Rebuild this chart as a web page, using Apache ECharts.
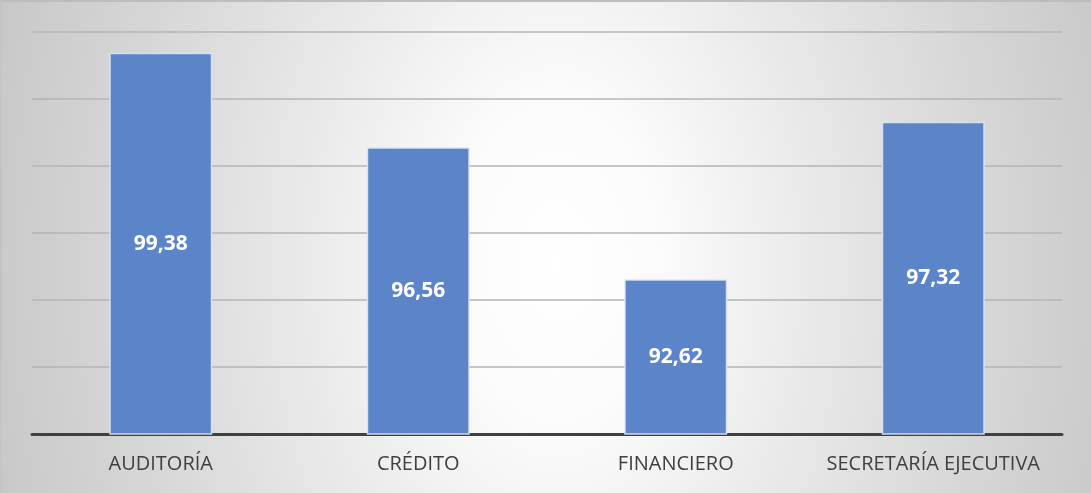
<!DOCTYPE html>
<html lang="es">
<head>
<meta charset="UTF-8">
<title>Puntaje por área</title>
<script src="https://cdn.jsdelivr.net/npm/echarts@6.0.0/dist/echarts.min.js"></script>
<style>
    html, body { margin: 0; padding: 0; }
    #chart {
        width: 1091px;
        height: 493px;
        box-sizing: border-box;
        border-top: 2px solid #bdbdbd;
        border-left: 2px solid #c4c4c4;
        background: radial-gradient(ellipse 580px 900px at 555px 260px, #ffffff 0%, #fbfbfb 18%, #e8e8e8 46%, #d6d6d6 75%, #c8c8c8 100%);
        background-color: #c6c6c6;
    }
</style>
</head>
<body>
<div id="chart"></div>
<script>
    const areas = ['AUDITORÍA', 'CRÉDITO', 'FINANCIERO', 'SECRETARÍA EJECUTIVA'];
    const puntajes = [99.38, 96.56, 92.62, 97.32];

    const myChart = echarts.init(document.getElementById('chart'));

    const option = {
        backgroundColor: 'transparent',
        animation: false,
        grid: { left: 30, right: 29, top: 30, bottom: 59 },
        xAxis: {
            type: 'category',
            data: areas,
            axisTick: { show: false },
            axisLine: { lineStyle: { color: '#404040', width: 3 } },
            axisLabel: {
                interval: 0,
                color: '#404040',
                fontFamily: 'Open Sans',
                fontSize: 20,
                margin: 20
            }
        },
        yAxis: {
            type: 'value',
            min: 88,
            max: 100,
            interval: 2,
            axisLabel: { show: false },
            axisLine: { show: false },
            axisTick: { show: false },
            splitLine: { lineStyle: { color: '#b5b5b5', width: 1.5 } }
        },
        series: [{
            type: 'bar',
            data: puntajes,
            barWidth: '40%',
            itemStyle: {
                color: '#5b84c9',
                borderColor: 'rgba(220,230,245,0.9)',
                borderWidth: 1.5
            },
            label: {
                show: true,
                position: 'inside',
                color: '#ffffff',
                fontWeight: 'bold',
                fontFamily: 'Open Sans',
                fontSize: 21,
                formatter: p => p.value.toFixed(2).replace('.', ',')
            }
        }]
    };

    myChart.setOption(option);
</script>
</body>
</html>
